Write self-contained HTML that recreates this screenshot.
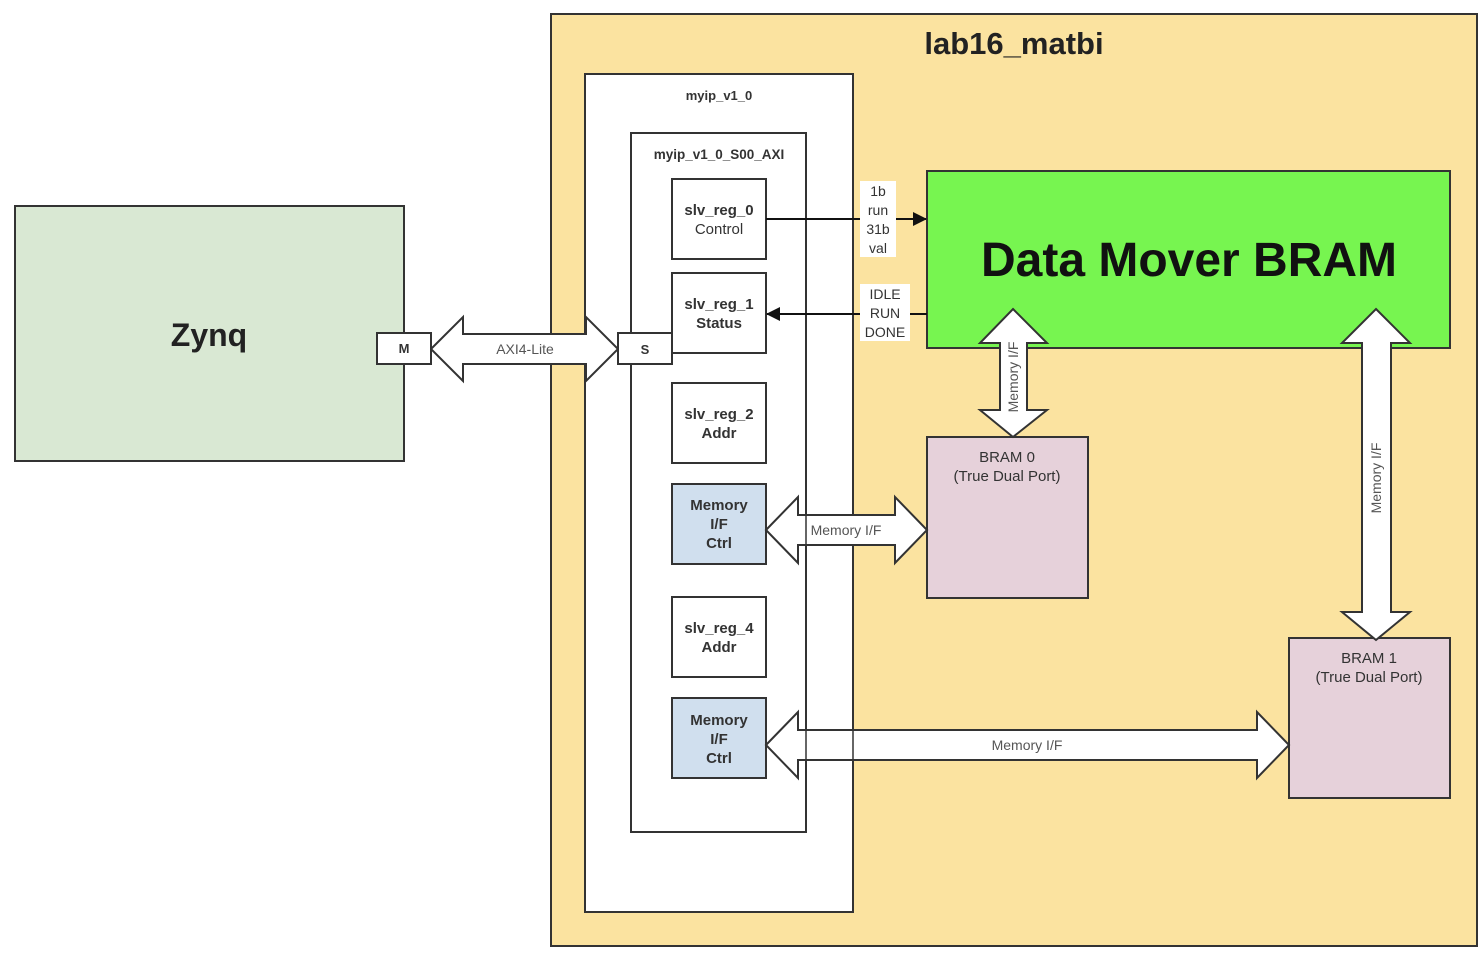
<!DOCTYPE html>
<html><head><meta charset="utf-8"><style>
html,body{margin:0;padding:0;background:#fff;}
svg{display:block;}
text{font-family:"Liberation Sans",sans-serif;}
</style></head><body>
<svg width="1482" height="953" viewBox="0 0 1482 953" xmlns="http://www.w3.org/2000/svg">
<defs><marker id="ah" markerWidth="14" markerHeight="14" refX="13" refY="7" orient="auto" markerUnits="userSpaceOnUse"><path d="M0,0 L14,7 L0,14 Z" fill="#111"/></marker></defs>
<rect width="1482" height="953" fill="#fff"/>
<!-- Zynq -->
<rect x="15" y="206" width="389" height="255" fill="#d9e8d3" stroke="#333" stroke-width="2"/>
<text x="209" y="346" font-size="32" font-weight="bold" text-anchor="middle" fill="#222">Zynq</text>
<!-- lab16 -->
<rect x="551" y="14" width="926" height="932" fill="#fbe3a0" stroke="#333" stroke-width="2"/>
<text x="1014" y="54" font-size="31" font-weight="bold" text-anchor="middle" fill="#222">lab16_matbi</text>
<rect x="585" y="74" width="268" height="838" fill="#fff" stroke="#333" stroke-width="2"/>
<text x="719" y="100" font-size="13" font-weight="bold" text-anchor="middle" fill="#333">myip_v1_0</text>
<rect x="631" y="133" width="175" height="699" fill="#fff" stroke="#333" stroke-width="2"/>
<text x="719" y="159" font-size="13.5" font-weight="bold" text-anchor="middle" fill="#333">myip_v1_0_S00_AXI</text>
<g stroke="#333" stroke-width="2" font-size="14" text-anchor="middle">
<rect x="672" y="179" width="94" height="80" fill="#fff"/>
<rect x="672" y="273" width="94" height="80" fill="#fff"/>
<rect x="672" y="383" width="94" height="80" fill="#fff"/>
<rect x="672" y="484" width="94" height="80" fill="#d0dfee"/>
<rect x="672" y="597" width="94" height="80" fill="#fff"/>
<rect x="672" y="698" width="94" height="80" fill="#d0dfee"/>
</g>
<g font-size="15" text-anchor="middle" fill="#333" font-weight="bold">
<text x="719" y="215">slv_reg_0</text><text x="719" y="234" font-weight="normal">Control</text>
<text x="719" y="309">slv_reg_1</text><text x="719" y="328">Status</text>
<text x="719" y="419">slv_reg_2</text><text x="719" y="438">Addr</text>
<text x="719" y="510">Memory</text><text x="719" y="529">I/F</text><text x="719" y="548">Ctrl</text>
<text x="719" y="633">slv_reg_4</text><text x="719" y="652">Addr</text>
<text x="719" y="725">Memory</text><text x="719" y="744">I/F</text><text x="719" y="763">Ctrl</text>
</g>
<!-- Data mover -->
<rect x="927" y="171" width="523" height="177" fill="#77f550" stroke="#333" stroke-width="2"/>
<text x="1189" y="276" font-size="48" font-weight="bold" text-anchor="middle" fill="#111">Data Mover BRAM</text>
<!-- BRAMs -->
<rect x="927" y="437" width="161" height="161" fill="#e6d1da" stroke="#333" stroke-width="2"/>
<text x="1007" y="462" font-size="15" text-anchor="middle" fill="#333">BRAM 0</text>
<text x="1007" y="481" font-size="15" text-anchor="middle" fill="#333">(True Dual Port)</text>
<rect x="1289" y="638" width="161" height="160" fill="#e6d1da" stroke="#333" stroke-width="2"/>
<text x="1369" y="663" font-size="15" text-anchor="middle" fill="#333">BRAM 1</text>
<text x="1369" y="682" font-size="15" text-anchor="middle" fill="#333">(True Dual Port)</text>
<!-- control arrows -->
<line x1="766" y1="219" x2="926" y2="219" stroke="#111" stroke-width="2" marker-end="url(#ah)"/>
<line x1="927" y1="314" x2="767" y2="314" stroke="#111" stroke-width="2" marker-end="url(#ah)"/>
<rect x="860" y="181" width="36" height="76" fill="#fff"/>
<g font-size="14" text-anchor="middle" fill="#333">
<text x="878" y="196">1b</text><text x="878" y="215">run</text><text x="878" y="234">31b</text><text x="878" y="253">val</text>
</g>
<rect x="860" y="284" width="50" height="57" fill="#fff"/>
<g font-size="14" text-anchor="middle" fill="#333">
<text x="885" y="299">IDLE</text><text x="885" y="318">RUN</text><text x="885" y="337">DONE</text>
</g>
<!-- big arrows -->
<g fill="#fff" stroke="#333" stroke-width="2" stroke-linejoin="miter">
<path d="M431,349 L463,317 L463,334 L586,334 L586,317 L618,349 L586,381 L586,364 L463,364 L463,381 Z"/>
<path d="M766,530 L798,497 L798,515 L895,515 L895,497 L927,530 L895,563 L895,545 L798,545 L798,563 Z"/>
<path d="M766,745 L798,712 L798,730 L1257,730 L1257,712 L1289,745 L1257,778 L1257,760 L798,760 L798,778 Z"/>
<path d="M1013,309 L1047,343 L1027,343 L1027,410 L1047,410 L1013,437 L980,410 L1000,410 L1000,343 L980,343 Z"/>
<path d="M1376,309 L1410,343 L1391,343 L1391,612 L1410,612 L1376,640 L1342,612 L1362,612 L1362,343 L1342,343 Z"/>
</g>
<line x1="806" y1="515" x2="806" y2="545" stroke="#333" stroke-width="1.5"/>
<line x1="806" y1="730" x2="806" y2="760" stroke="#333" stroke-width="1.5"/>
<line x1="853" y1="730" x2="853" y2="760" stroke="#333" stroke-width="1.5"/>
<g font-size="14" text-anchor="middle" fill="#555">
<text x="525" y="354">AXI4-Lite</text>
<text x="846" y="535">Memory I/F</text>
<text x="1027" y="750">Memory I/F</text>
<text transform="translate(1018,377) rotate(-90)">Memory I/F</text>
<text transform="translate(1381,478) rotate(-90)">Memory I/F</text>
</g>
<!-- M / S -->
<rect x="377" y="333" width="54" height="31" fill="#fff" stroke="#333" stroke-width="2"/>
<text x="404" y="353" font-size="13" font-weight="bold" text-anchor="middle" fill="#333">M</text>
<rect x="618" y="333" width="54" height="31" fill="#fff" stroke="#333" stroke-width="2"/>
<text x="645" y="354" font-size="13" font-weight="bold" text-anchor="middle" fill="#333">S</text>
</svg>
</body></html>
